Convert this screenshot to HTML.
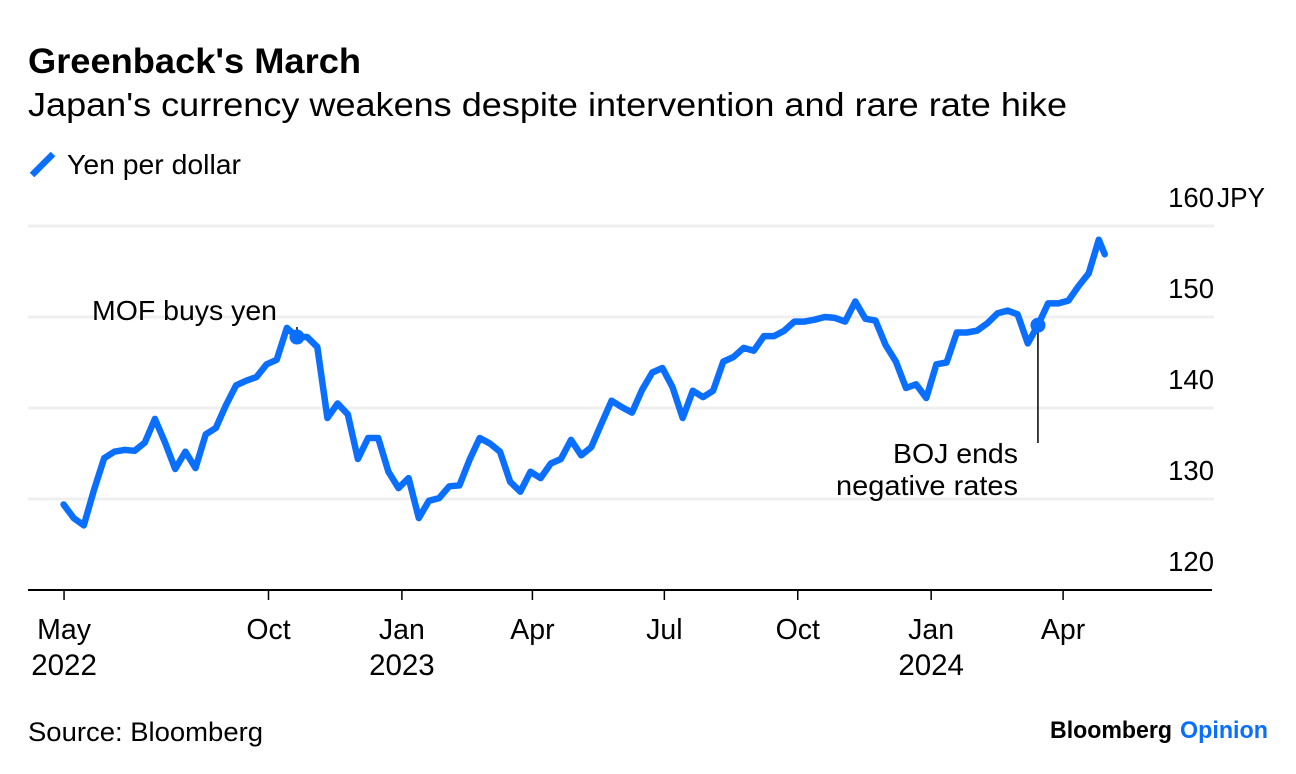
<!DOCTYPE html>
<html lang="en">
<head>
<meta charset="utf-8">
<title>Greenback's March</title>
<style>
html,body{margin:0;padding:0;background:#fff;}
svg{display:block;}
text{font-family:"Liberation Sans",sans-serif;fill:#000;}
</style>
</head>
<body>
<svg id="chart" xmlns="http://www.w3.org/2000/svg" width="1296" height="774" viewBox="0 0 1296 774">
  <text x="28" y="73" font-size="35" font-weight="700" textLength="333" lengthAdjust="spacingAndGlyphs">Greenback's March</text>
  <text x="28" y="116" font-size="33" textLength="1039" lengthAdjust="spacingAndGlyphs">Japan's currency weakens despite intervention and rare rate hike</text>
  <line x1="32" y1="175" x2="53" y2="154" stroke="#0a6fff" stroke-width="6.5"/>
  <text x="67" y="174" font-size="27.5" textLength="174" lengthAdjust="spacingAndGlyphs">Yen per dollar</text>
  <g id="grid"></g>
  <g id="yticks"></g>
  <text x="1217" y="207" font-size="27.5" textLength="48" lengthAdjust="spacingAndGlyphs">JPY</text>
  <g id="xaxis"></g>
  <g id="annotations"></g>
  <path id="series" fill="none" stroke="#0a6fff" stroke-width="6.5" stroke-linejoin="round" stroke-linecap="round"/>
  <g id="markers"></g>
  <text x="28" y="741" font-size="26.5" textLength="235" lengthAdjust="spacingAndGlyphs">Source: Bloomberg</text>
  <text x="1050" y="738" font-size="24.5" font-weight="700" textLength="122" lengthAdjust="spacingAndGlyphs">Bloomberg</text>
  <text x="1180" y="738" font-size="24.5" font-weight="700" textLength="88" lengthAdjust="spacingAndGlyphs" style="fill:#0a6fff">Opinion</text>
</svg>
<script>
const dates = [
"2022-05-13","2022-05-20","2022-05-27","2022-06-03","2022-06-10","2022-06-17","2022-06-24",
"2022-07-01","2022-07-08","2022-07-15","2022-07-22","2022-07-29","2022-08-05","2022-08-12","2022-08-19","2022-08-26",
"2022-09-02","2022-09-09","2022-09-16","2022-09-23","2022-09-30","2022-10-07","2022-10-14","2022-10-21","2022-10-28",
"2022-11-04","2022-11-11","2022-11-18","2022-11-25","2022-12-02","2022-12-09","2022-12-16","2022-12-23","2022-12-30",
"2023-01-06","2023-01-13","2023-01-20","2023-01-27","2023-02-03","2023-02-10","2023-02-17","2023-02-24",
"2023-03-03","2023-03-10","2023-03-17","2023-03-24","2023-03-31","2023-04-07","2023-04-14","2023-04-21","2023-04-28",
"2023-05-05","2023-05-12","2023-05-19","2023-05-26","2023-06-02","2023-06-09","2023-06-16","2023-06-23","2023-06-30",
"2023-07-07","2023-07-14","2023-07-21","2023-07-28","2023-08-04","2023-08-11","2023-08-18","2023-08-25",
"2023-09-01","2023-09-08","2023-09-15","2023-09-22","2023-09-29","2023-10-06","2023-10-13","2023-10-20","2023-10-27",
"2023-11-03","2023-11-10","2023-11-17","2023-11-24","2023-12-01","2023-12-08","2023-12-15","2023-12-22","2023-12-29",
"2024-01-05","2024-01-12","2024-01-19","2024-01-26","2024-02-02","2024-02-09","2024-02-16","2024-02-23",
"2024-03-01","2024-03-08","2024-03-15","2024-03-22","2024-03-29","2024-04-05","2024-04-12","2024-04-19","2024-04-26","2024-04-30"
];
const yenPerDollar = [
129.4,127.9,127.1,131.0,134.5,135.2,135.4,135.3,136.2,138.8,136.2,133.3,135.2,133.4,137.1,137.8,
140.3,142.5,143.0,143.4,144.8,145.3,148.8,147.8,147.8,146.7,138.9,140.5,139.3,134.4,136.7,136.7,
133.0,131.2,132.3,127.9,129.8,130.1,131.4,131.5,134.3,136.7,136.1,135.2,131.9,130.8,133.0,132.3,
133.9,134.4,136.5,134.8,135.7,138.3,140.8,140.1,139.5,142.0,143.9,144.4,142.3,138.9,141.9,141.2,
141.9,145.1,145.6,146.6,146.3,147.9,147.9,148.5,149.5,149.5,149.7,150.0,149.9,149.5,151.7,149.8,
149.6,146.9,145.1,142.2,142.6,141.1,144.8,145.0,148.3,148.3,148.5,149.3,150.4,150.7,150.3,147.1,
149.1,151.5,151.5,151.8,153.4,154.8,158.5,156.9
];
const yTickValues = [120,130,140,150,160];
const gridValues = [130,140,150,160];
const xTickDates = ["2022-05-13","2022-10-01","2023-01-01","2023-04-01","2023-07-01","2023-10-01","2024-01-01","2024-04-01"];
const xTickMonths = ["May","Oct","Jan","Apr","Jul","Oct","Jan","Apr"];
const xTickYears = ["2022","","2023","","","","2024",""];
const mofEventIndex = 23;
const bojEventIndex = 96;

const SVG_NS = "http://www.w3.org/2000/svg";
const DAY_MS = 86400000;
const originMs = Date.parse("2022-10-01");
function xScale(dateStr){ return 268 + (Date.parse(dateStr) - originMs) / DAY_MS * 1.45; }
function yScale(v){ return 590 - (v - 120) * 9.1; }
function make(tag, attrs){
  const el = document.createElementNS(SVG_NS, tag);
  for (const k in attrs) el.setAttribute(k, attrs[k]);
  return el;
}

const grid = document.getElementById("grid");
gridValues.forEach(function(v){
  const l = make("line", {x1:28, x2:1214, y1:yScale(v), y2:yScale(v), stroke:"#efefef", "stroke-width":3});
  
  
  grid.appendChild(l);
});

const yticks = document.getElementById("yticks");
yTickValues.forEach(function(v){
  const t = make("text", {x:1214, y:yScale(v) - 19, "text-anchor":"end", "font-size":27.5});
  
  
  t.textContent = String(v);
  yticks.appendChild(t);
});

const xaxis = document.getElementById("xaxis");
const baseline = make("line", {x1:28, x2:1212, y1:590, y2:590, stroke:"#000", "stroke-width":2});


xaxis.appendChild(baseline);
xTickDates.forEach(function(d, i){
  const x = xScale(d) + 0.5;
  const tick = make("line", {x1:x, x2:x, y1:590, y2:600, stroke:"#000", "stroke-width":1.5});
  
  
  xaxis.appendChild(tick);
  const m = make("text", {x:x, y:639, "text-anchor":"middle", "font-size":28.5});
  
  
  m.textContent = xTickMonths[i];
  xaxis.appendChild(m);
  if (xTickYears[i]) {
    const y = make("text", {x:x, y:675, "text-anchor":"middle", "font-size":29.5});
    
    
    y.textContent = xTickYears[i];
    xaxis.appendChild(y);
  }
});

const ann = document.getElementById("annotations");
const mofX = xScale(dates[mofEventIndex]);
const mofY = yScale(yenPerDollar[mofEventIndex]);
const bojX = xScale(dates[bojEventIndex]);
const bojY = yScale(yenPerDollar[bojEventIndex]);
const mofLine = make("line", {x1:mofX, x2:mofX, y1:mofY - 10, y2:mofY, stroke:"#000", "stroke-width":1.5});


ann.appendChild(mofLine);
const bojLine = make("line", {x1:bojX, x2:bojX, y1:bojY, y2:443, stroke:"#000", "stroke-width":1.5});


ann.appendChild(bojLine);
const mofText = make("text", {x:92, y:320, "font-size":27.5, textLength:185, lengthAdjust:"spacingAndGlyphs"});


mofText.textContent = "MOF buys yen";
ann.appendChild(mofText);
const bojText1 = make("text", {x:893, y:463, "font-size":27.5, textLength:125, lengthAdjust:"spacingAndGlyphs"});


bojText1.textContent = "BOJ ends";
ann.appendChild(bojText1);
const bojText2 = make("text", {x:836, y:495, "font-size":27.5, textLength:182, lengthAdjust:"spacingAndGlyphs"});


bojText2.textContent = "negative rates";
ann.appendChild(bojText2);

document.getElementById("series").setAttribute("d",
  yenPerDollar.map(function(v, i){
    return (i ? "L" : "M") + xScale(dates[i]).toFixed(1) + " " + yScale(v).toFixed(1);
  }).join(" "));

const markers = document.getElementById("markers");
const mofDot = make("circle", {cx:mofX, cy:mofY, r:7.5, fill:"#0a6fff"});


markers.appendChild(mofDot);
const bojDot = make("circle", {cx:bojX, cy:bojY, r:7.5, fill:"#0a6fff"});


markers.appendChild(bojDot);
</script>
</body>
</html>
